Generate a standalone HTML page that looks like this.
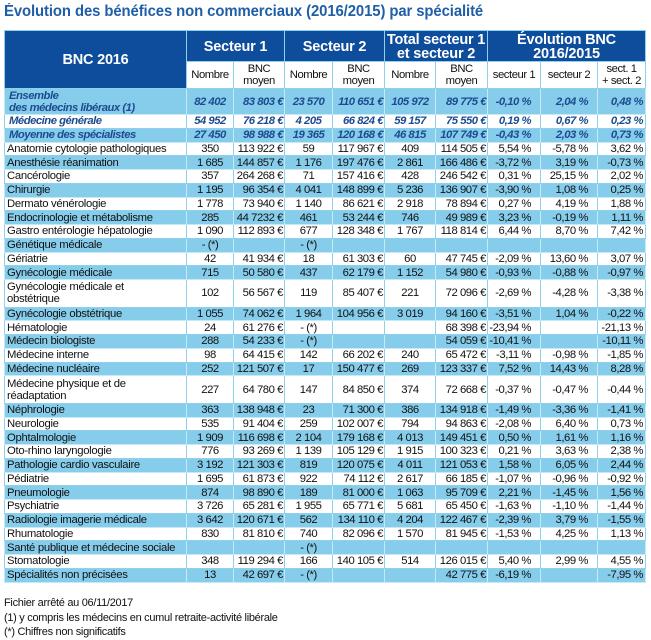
<!DOCTYPE html>
<html><head><meta charset="utf-8">
<style>
*{margin:0;padding:0;box-sizing:border-box}
body{width:651px;height:639px;background:#fff;font-family:"Liberation Sans",Arial,sans-serif;position:relative;overflow:hidden;color:#111}
.title{position:absolute;left:4px;top:3px;font-size:15.5px;font-weight:bold;color:#1f5fa8;white-space:nowrap;transform:scaleX(0.96);transform-origin:left top;letter-spacing:-0.1px}
table{position:absolute;left:4px;top:30px;width:641px;border-collapse:collapse;table-layout:fixed;font-size:11.3px;letter-spacing:-0.45px}
td,th{border:1px solid #8fd0ec;padding:0;white-space:nowrap;overflow:hidden;line-height:12px}
th{background:#0e4d9b;color:#fff;font-weight:bold;font-size:14.5px;letter-spacing:-0.2px;border-color:#8fd0ec;line-height:14px;overflow:visible;padding-top:1px}
.sub td{background:#fff;text-align:center;height:27px}
tr{height:13.75px}
tr.b td{background:#86cdec}
tr.w td{background:#fff}
tr.b td{border-color:#c6e9f6}
td.l{text-align:left;padding-left:2px;letter-spacing:-0.3px}
td.n{text-align:center}
td.m{text-align:right;padding-right:1px}
td.p{text-align:right;padding-right:9px}
td.q{text-align:right;padding-right:2px}
tr.it td{font-weight:bold;font-style:italic;color:#1e4b8f;letter-spacing:-0.5px}
tr.d{height:27.5px}
tr.d td.l{white-space:normal}
.foot{position:absolute;left:4px;top:596px;font-size:11px;line-height:14.5px;letter-spacing:-0.3px;color:#111}
</style></head><body>
<div class="title">Évolution des bénéfices non commerciaux (2016/2015) par spécialité</div>
<table>
<colgroup><col style="width:182px"><col style="width:47px"><col style="width:51px"><col style="width:48px"><col style="width:52px"><col style="width:51px"><col style="width:52px"><col style="width:53px"><col style="width:57px"><col style="width:48px"></colgroup>
<tr style="height:31px"><th rowspan="2">BNC 2016</th><th colspan="2">Secteur 1</th><th colspan="2">Secteur 2</th><th colspan="2">Total secteur 1<br>et secteur 2</th><th colspan="3">Évolution BNC<br>2016/2015</th></tr>
<tr class="sub"><td>Nombre</td><td>BNC<br>moyen</td><td>Nombre</td><td>BNC<br>moyen</td><td>Nombre</td><td>BNC<br>moyen</td><td>secteur 1</td><td>secteur 2</td><td>sect. 1<br>+ sect. 2</td></tr>
<tr class="b it d" style="height:26px"><td class="l" style="padding-left:4px">Ensemble<br>des médecins libéraux (1)</td><td class="n">82 402</td><td class="m">83 803 €</td><td class="n">23 570</td><td class="m">110 651 €</td><td class="n">105 972</td><td class="m">89 775 €</td><td class="p">-0,10 %</td><td class="p">2,04 %</td><td class="q">0,48 %</td></tr>
<tr class="w it"><td class="l" style="padding-left:4px">Médecine générale</td><td class="n">54 952</td><td class="m">76 218 €</td><td class="n">4 205</td><td class="m">66 824 €</td><td class="n">59 157</td><td class="m">75 550 €</td><td class="p">0,19 %</td><td class="p">0,67 %</td><td class="q">0,23 %</td></tr>
<tr class="b it"><td class="l" style="padding-left:4px">Moyenne des spécialistes</td><td class="n">27 450</td><td class="m">98 988 €</td><td class="n">19 365</td><td class="m">120 168 €</td><td class="n">46 815</td><td class="m">107 749 €</td><td class="p">-0,43 %</td><td class="p">2,03 %</td><td class="q">0,73 %</td></tr>
<tr class="w"><td class="l">Anatomie cytologie pathologiques</td><td class="n">350</td><td class="m">113 922 €</td><td class="n">59</td><td class="m">117 967 €</td><td class="n">409</td><td class="m">114 505 €</td><td class="p">5,54 %</td><td class="p">-5,78 %</td><td class="q">3,62 %</td></tr>
<tr class="b"><td class="l">Anesthésie réanimation</td><td class="n">1 685</td><td class="m">144 857 €</td><td class="n">1 176</td><td class="m">197 476 €</td><td class="n">2 861</td><td class="m">166 486 €</td><td class="p">-3,72 %</td><td class="p">3,19 %</td><td class="q">-0,73 %</td></tr>
<tr class="w"><td class="l">Cancérologie</td><td class="n">357</td><td class="m">264 268 €</td><td class="n">71</td><td class="m">157 416 €</td><td class="n">428</td><td class="m">246 542 €</td><td class="p">0,31 %</td><td class="p">25,15 %</td><td class="q">2,02 %</td></tr>
<tr class="b"><td class="l">Chirurgie</td><td class="n">1 195</td><td class="m">96 354 €</td><td class="n">4 041</td><td class="m">148 899 €</td><td class="n">5 236</td><td class="m">136 907 €</td><td class="p">-3,90 %</td><td class="p">1,08 %</td><td class="q">0,25 %</td></tr>
<tr class="w"><td class="l">Dermato vénérologie</td><td class="n">1 778</td><td class="m">73 940 €</td><td class="n">1 140</td><td class="m">86 621 €</td><td class="n">2 918</td><td class="m">78 894 €</td><td class="p">0,27 %</td><td class="p">4,19 %</td><td class="q">1,88 %</td></tr>
<tr class="b"><td class="l">Endocrinologie et métabolisme</td><td class="n">285</td><td class="m">44 7232 €</td><td class="n">461</td><td class="m">53 244 €</td><td class="n">746</td><td class="m">49 989 €</td><td class="p">3,23 %</td><td class="p">-0,19 %</td><td class="q">1,11 %</td></tr>
<tr class="w"><td class="l">Gastro entérologie hépatologie</td><td class="n">1 090</td><td class="m">112 893 €</td><td class="n">677</td><td class="m">128 348 €</td><td class="n">1 767</td><td class="m">118 814 €</td><td class="p">6,44 %</td><td class="p">8,70 %</td><td class="q">7,42 %</td></tr>
<tr class="b"><td class="l">Génétique médicale</td><td class="n">- (*)</td><td></td><td class="n">- (*)</td><td></td><td></td><td></td><td></td><td></td><td></td></tr>
<tr class="w"><td class="l">Gériatrie</td><td class="n">42</td><td class="m">41 934 €</td><td class="n">18</td><td class="m">61 303 €</td><td class="n">60</td><td class="m">47 745 €</td><td class="p">-2,09 %</td><td class="p">13,60 %</td><td class="q">3,07 %</td></tr>
<tr class="b"><td class="l">Gynécologie médicale</td><td class="n">715</td><td class="m">50 580 €</td><td class="n">437</td><td class="m">62 179 €</td><td class="n">1 152</td><td class="m">54 980 €</td><td class="p">-0,93 %</td><td class="p">-0,88 %</td><td class="q">-0,97 %</td></tr>
<tr class="w d"><td class="l">Gynécologie médicale et<br>obstétrique</td><td class="n">102</td><td class="m">56 567 €</td><td class="n">119</td><td class="m">85 407 €</td><td class="n">221</td><td class="m">72 096 €</td><td class="p">-2,69 %</td><td class="p">-4,28 %</td><td class="q">-3,38 %</td></tr>
<tr class="b"><td class="l">Gynécologie obstétrique</td><td class="n">1 055</td><td class="m">74 062 €</td><td class="n">1 964</td><td class="m">104 956 €</td><td class="n">3 019</td><td class="m">94 160 €</td><td class="p">-3,51 %</td><td class="p">1,04 %</td><td class="q">-0,22 %</td></tr>
<tr class="w"><td class="l">Hématologie</td><td class="n">24</td><td class="m">61 276 €</td><td class="n">- (*)</td><td></td><td></td><td class="m">68 398 €</td><td class="p">-23,94 %</td><td></td><td class="q">-21,13 %</td></tr>
<tr class="b"><td class="l">Médecin biologiste</td><td class="n">288</td><td class="m">54 233 €</td><td class="n">- (*)</td><td></td><td></td><td class="m">54 059 €</td><td class="p">-10,41 %</td><td></td><td class="q">-10,11 %</td></tr>
<tr class="w"><td class="l">Médecine interne</td><td class="n">98</td><td class="m">64 415 €</td><td class="n">142</td><td class="m">66 202 €</td><td class="n">240</td><td class="m">65 472 €</td><td class="p">-3,11 %</td><td class="p">-0,98 %</td><td class="q">-1,85 %</td></tr>
<tr class="b"><td class="l">Médecine nucléaire</td><td class="n">252</td><td class="m">121 507 €</td><td class="n">17</td><td class="m">150 477 €</td><td class="n">269</td><td class="m">123 337 €</td><td class="p">7,52 %</td><td class="p">14,43 %</td><td class="q">8,28 %</td></tr>
<tr class="w d"><td class="l">Médecine physique et de<br>réadaptation</td><td class="n">227</td><td class="m">64 780 €</td><td class="n">147</td><td class="m">84 850 €</td><td class="n">374</td><td class="m">72 668 €</td><td class="p">-0,37 %</td><td class="p">-0,47 %</td><td class="q">-0,44 %</td></tr>
<tr class="b"><td class="l">Néphrologie</td><td class="n">363</td><td class="m">138 948 €</td><td class="n">23</td><td class="m">71 300 €</td><td class="n">386</td><td class="m">134 918 €</td><td class="p">-1,49 %</td><td class="p">-3,36 %</td><td class="q">-1,41 %</td></tr>
<tr class="w"><td class="l">Neurologie</td><td class="n">535</td><td class="m">91 404 €</td><td class="n">259</td><td class="m">102 007 €</td><td class="n">794</td><td class="m">94 863 €</td><td class="p">-2,08 %</td><td class="p">6,40 %</td><td class="q">0,73 %</td></tr>
<tr class="b"><td class="l">Ophtalmologie</td><td class="n">1 909</td><td class="m">116 698 €</td><td class="n">2 104</td><td class="m">179 168 €</td><td class="n">4 013</td><td class="m">149 451 €</td><td class="p">0,50 %</td><td class="p">1,61 %</td><td class="q">1,16 %</td></tr>
<tr class="w"><td class="l">Oto-rhino laryngologie</td><td class="n">776</td><td class="m">93 269 €</td><td class="n">1 139</td><td class="m">105 129 €</td><td class="n">1 915</td><td class="m">100 323 €</td><td class="p">0,21 %</td><td class="p">3,63 %</td><td class="q">2,38 %</td></tr>
<tr class="b"><td class="l">Pathologie cardio vasculaire</td><td class="n">3 192</td><td class="m">121 303 €</td><td class="n">819</td><td class="m">120 075 €</td><td class="n">4 011</td><td class="m">121 053 €</td><td class="p">1,58 %</td><td class="p">6,05 %</td><td class="q">2,44 %</td></tr>
<tr class="w"><td class="l">Pédiatrie</td><td class="n">1 695</td><td class="m">61 873 €</td><td class="n">922</td><td class="m">74 112 €</td><td class="n">2 617</td><td class="m">66 185 €</td><td class="p">-1,07 %</td><td class="p">-0,96 %</td><td class="q">-0,92 %</td></tr>
<tr class="b"><td class="l">Pneumologie</td><td class="n">874</td><td class="m">98 890 €</td><td class="n">189</td><td class="m">81 000 €</td><td class="n">1 063</td><td class="m">95 709 €</td><td class="p">2,21 %</td><td class="p">-1,45 %</td><td class="q">1,56 %</td></tr>
<tr class="w"><td class="l">Psychiatrie</td><td class="n">3 726</td><td class="m">65 281 €</td><td class="n">1 955</td><td class="m">65 771 €</td><td class="n">5 681</td><td class="m">65 450 €</td><td class="p">-1,63 %</td><td class="p">-1,10 %</td><td class="q">-1,44 %</td></tr>
<tr class="b"><td class="l">Radiologie imagerie médicale</td><td class="n">3 642</td><td class="m">120 671 €</td><td class="n">562</td><td class="m">134 110 €</td><td class="n">4 204</td><td class="m">122 467 €</td><td class="p">-2,39 %</td><td class="p">3,79 %</td><td class="q">-1,55 %</td></tr>
<tr class="w"><td class="l">Rhumatologie</td><td class="n">830</td><td class="m">81 810 €</td><td class="n">740</td><td class="m">82 096 €</td><td class="n">1 570</td><td class="m">81 945 €</td><td class="p">-1,53 %</td><td class="p">4,25 %</td><td class="q">1,13 %</td></tr>
<tr class="b"><td class="l">Santé publique et médecine sociale</td><td></td><td></td><td class="n">- (*)</td><td></td><td></td><td></td><td></td><td></td><td></td></tr>
<tr class="w"><td class="l">Stomatologie</td><td class="n">348</td><td class="m">119 294 €</td><td class="n">166</td><td class="m">140 105 €</td><td class="n">514</td><td class="m">126 015 €</td><td class="p">5,40 %</td><td class="p">2,99 %</td><td class="q">4,55 %</td></tr>
<tr class="b"><td class="l">Spécialités non précisées</td><td class="n">13</td><td class="m">42 697 €</td><td class="n">- (*)</td><td></td><td></td><td class="m">42 775 €</td><td class="p">-6,19 %</td><td></td><td class="q">-7,95 %</td></tr>
</table>
<div class="foot">Fichier arrêté au 06/11/2017<br>(1) y compris les médecins en cumul retraite-activité libérale<br>(*) Chiffres non significatifs</div>
</body></html>
